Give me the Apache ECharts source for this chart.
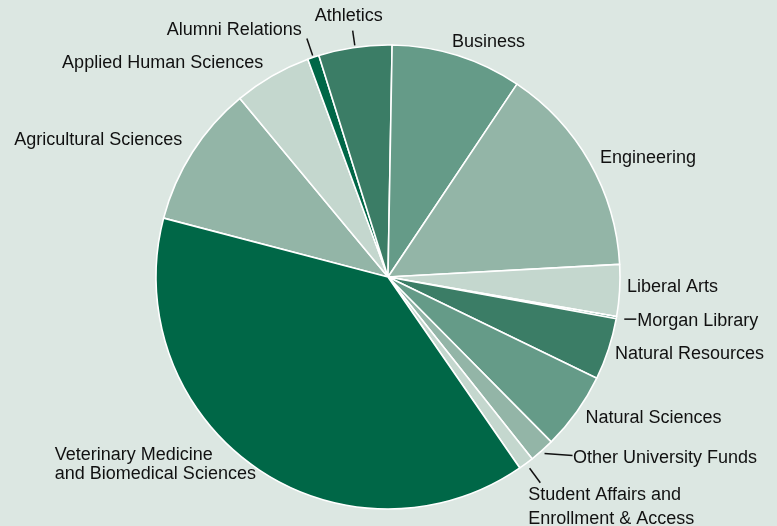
<!DOCTYPE html>
<html><head><meta charset="utf-8">
<script src="https://cdn.jsdelivr.net/npm/echarts@6/dist/echarts.min.js"></script>
<style>html,body{margin:0;padding:0;background:#dce7e2;}#c{width:777px;height:526px;}</style>
</head><body><div id="c"></div>
<script>
const names = ['Agricultural Sciences','Applied Human Sciences','Alumni Relations','Athletics','Business','Engineering','Liberal Arts','Morgan Library','Natural Resources','Natural Sciences','Other University Funds','Student Affairs and\nEnrollment & Access','Veterinary Medicine\nand Biomedical Sciences'];
const values = [9.9, 5.4, 0.8, 5.1, 9.1, 14.75, 3.6, 0.15, 4.3, 5.4, 1.75, 1.05, 38.7];

const palette = ['#93b5a7','#c4d7ce','#006747','#3b7d66','#659b88'];
const CX = 388, CY = 277, R = 232, START = 165.3;
// label placement styling: radius, offsets, alignment, leader line
const labelCfg = [
  {r:244, dx:0, dy:-6, align:'right'},
  {r:244, dx:-3, dy:-3, align:'right'},
  {r:252, dx:-5, dy:-8, align:'right', line:[[234,0,0],[252,0,0]]},
  {r:249, dx:-4, dy:-14, align:'center', line:[[234,0,0],[249,0,0]]},
  {r:244, dx:-9, dy:-2, align:'left'},
  {r:244, dx:0, dy:2, align:'left'},
  {r:244, dx:-4.6, dy:-4, align:'left'},
  {r:240, dx:13, dy:2, align:'left', line:[[240,0,0],[240,12,0]]},
  {r:244, dx:-5, dy:1, align:'left'},
  {r:244, dx:-1, dy:-1, align:'left'},
  {r:236, dx:28.5, dy:4.4, align:'left', line:[[236,0,0],[236,28,2]]},
  {r:256, dx:-12, dy:24, align:'left', lh:24, line:[[238,0,0],[256,0,0]]},
  {r:232, dx:-200, dy:-2.5, align:'left', lh:19.5}
];
const total = values.reduce((a,b)=>a+b,0);
const mids = [];
let acc = START;
values.forEach(v => { const span = v/total*360; mids.push(acc - span/2); acc -= span; });
function polar(r, ang){ const a = ang*Math.PI/180; return [CX + r*Math.cos(a), CY - r*Math.sin(a)]; }

const data = names.map((n,i)=>({
  name:n, value:values[i],
  itemStyle:{color:palette[i%5]},
  label:{lineHeight: labelCfg[i].lh || 20},
  labelLine:{show: !!labelCfg[i].line}
}));

const chart = echarts.init(document.getElementById('c'), null, {renderer:'canvas'});
chart.setOption({
  backgroundColor:'#dce7e2',
  animation:false,
  series:[{
    type:'pie',
    center:[CX, CY],
    radius:R,
    startAngle:START,
    clockwise:true,
    avoidLabelOverlap:false,
    data:data,
    itemStyle:{borderColor:'#ffffff', borderWidth:1.6},
    label:{show:true, position:'outside', color:'#111111', fontFamily:'Liberation Sans, Arial, sans-serif', fontSize:18},
    labelLine:{length:10, length2:0, lineStyle:{color:'#111111', width:1.5}},
    emphasis:{disabled:true},
    labelLayout:function(p){
      const i = p.dataIndex, c = labelCfg[i], m = mids[i];
      const pt = polar(c.r, m);
      const out = {x:pt[0]+c.dx, y:pt[1]+c.dy, align:c.align, verticalAlign:'middle'};
      if (c.line){
        out.labelLinePoints = c.line.map(s => { const q = polar(s[0], m); return [q[0]+s[1], q[1]+s[2]]; });
      }
      return out;
    }
  }]
});
</script></body></html>
